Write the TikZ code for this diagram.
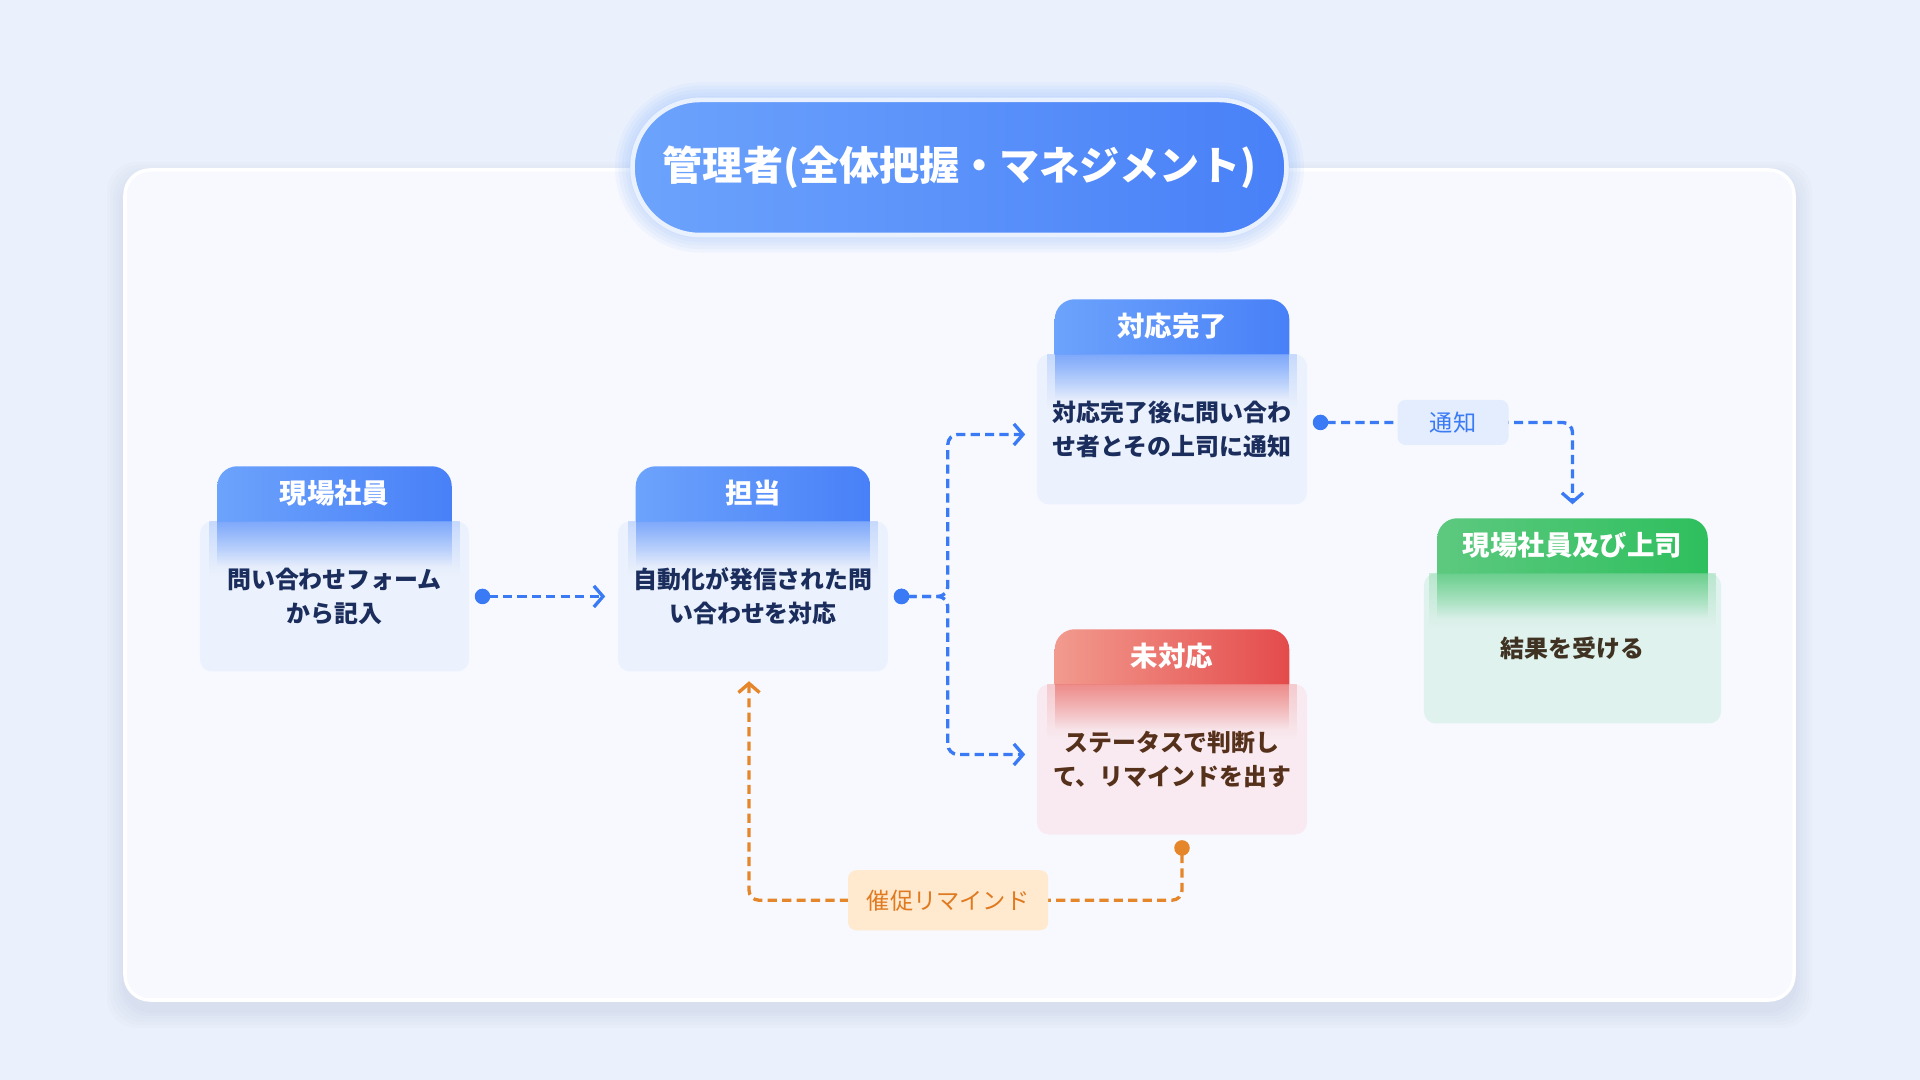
\documentclass[tikz,border=0pt]{standalone}
\usepackage{fontspec}
\setmainfont{Noto Sans CJK JP}
\usetikzlibrary{arrows.meta,positioning,calc,shapes.misc,fadings}

\definecolor{bgblue}{HTML}{EAF1FD}
\definecolor{panel}{HTML}{F7F9FF}
\definecolor{blueL}{HTML}{6CA3FC}
\definecolor{blueR}{HTML}{4880F8}
\definecolor{blueB}{HTML}{ECF2FD}
\definecolor{blueT}{HTML}{1A2D5C}
\definecolor{conB}{HTML}{3A7AF5}
\definecolor{redL}{HTML}{F29A8E}
\definecolor{redR}{HTML}{E44B4B}
\definecolor{redB}{HTML}{F8EAF0}
\definecolor{redT}{HTML}{55301A}
\definecolor{greenL}{HTML}{5DC97F}
\definecolor{greenR}{HTML}{2EBF5E}
\definecolor{greenB}{HTML}{E0F2EE}
\definecolor{greenT}{HTML}{3F3222}
\definecolor{conO}{HTML}{E5862A}
\definecolor{orgB}{HTML}{FFE9CF}
\definecolor{orgT}{HTML}{E07A20}
\definecolor{tsuB}{HTML}{E4EDFD}

\pgfdeclarelayer{back}
\pgfsetlayers{back,main}
\tikzfading[name=fadedown, top color=transparent!35, bottom color=transparent!100]
\tikzfading[name=fadesoft, top color=transparent!75, bottom color=transparent!100]

\newcommand{\hdfont}[0]{\fontsize{7.8}{9}\selectfont\bfseries}
\newcommand{\bdfont}[0]{\fontsize{6.8}{9.7}\selectfont\bfseries}
\newcommand{\lbfont}[0]{\fontsize{6.6}{8}\selectfont}
\newcommand{\headfill}[2]{\begin{pgfonlayer}{back}
	\shade[left color=#2L, right color=#2R, rounded corners=0.2cm]
	([yshift=-0.3cm]#1.south west) rectangle (#1.north east);
	\end{pgfonlayer}}
\newcommand{\glow}[2]{\fill[#2L!40!#2R, path fading=fadesoft]
	([xshift=-0.08cm]#1.south west) rectangle ([xshift=0.08cm,yshift=-0.55cm]#1.south east);
	\fill[#2L!40!#2R, path fading=fadedown]
	(#1.south west) rectangle ([yshift=-0.45cm]#1.south east)}

\tikzset{
	hd/.style={minimum width=#1, minimum height=0.53cm, inner sep=0pt, text=white, font=\hdfont},
	bd/.style={minimum width=#1, minimum height=1.5cm, inner sep=0pt, rounded corners=0.12cm, align=center, font=\bdfont},
	conn/.style={draw=#1, line width=0.95pt, dash pattern=on 2.6pt off 1.5pt,
		{Circle[length=4.4pt]}-{Straight Barb[length=2.6pt,width=6pt,line width=0.95pt]}},
	tag/.style={fill=#1, rounded corners=0.08cm, inner sep=0pt, font=\lbfont},
}

\begin{document}
\begin{tikzpicture}[x=0.01cm, y=-0.01cm]
	\useasboundingbox (0,0) rectangle (1920,1080);
\begin{pgfonlayer}{back}
	\fill[bgblue] (0,0) rectangle (1920,1080);
	\foreach \d in {3,6,...,18}
		\fill[blueR!30!gray, opacity=0.025, rounded corners=0.3cm] (125-\d,170-\d+10) rectangle (1794+\d,1000+\d+10);
	\fill[panel, draw=white, line width=1pt, rounded corners=0.25cm] (125,170) rectangle (1794,1000);
	\foreach \d in {1,...,5}
		\node[rounded rectangle, fill=blueL, opacity=0.06, minimum width=6.77cm+\d*0.07cm, minimum height=1.35cm+\d*0.07cm] (tglow\d) at (959.5,167.5) {};
\end{pgfonlayer}
%
	\node[rounded rectangle, left color=blueL, right color=blueR, draw=white!85!blueL, line width=1.3pt,
		minimum width=6.77cm, minimum height=1.35cm, text=white, font=\fontsize{11.4}{13}\selectfont\bfseries]
		(kanri) at (959.5,167.5) {管理者(全体把握・マネジメント)};
%
	\node[hd=2.33cm] (genbaH) at (334.5,493.5) {現場社員};
	\headfill{genbaH}{blue};
	\node[bd=2.69cm, fill=blueB, text=blueT, below=0pt of genbaH] (genba) {問い合わせフォーム\\から記入};
	\glow{genbaH}{blue};
%
	\node[hd=2.33cm] (tantouH) at (753,493.5) {担当};
	\headfill{tantouH}{blue};
	\node[bd=2.70cm, fill=blueB, text=blueT, below=0pt of tantouH] (tantou) {自動化が発信された問\\い合わせを対応};
	\glow{tantouH}{blue};
%
	\node[hd=2.33cm] (kanryoH) at (1172,326.5) {対応完了};
	\headfill{kanryoH}{blue};
	\node[bd=2.70cm, fill=blueB, text=blueT, below=0pt of kanryoH] (kanryo) {対応完了後に問い合わ\\せ者とその上司に通知};
	\glow{kanryoH}{blue};
%
	\node[hd=2.33cm] (mitaiouH) at (1172,656.5) {未対応};
	\headfill{mitaiouH}{red};
	\node[bd=2.70cm, fill=redB, text=redT, below=0pt of mitaiouH] (mitaiou) {ステータスで判断し\\て、リマインドを出す};
	\glow{mitaiouH}{red};
%
	\node[hd=2.69cm] (joushiH) at (1572.5,545.5) {現場社員及び上司};
	\headfill{joushiH}{green};
	\node[bd=2.97cm, fill=greenB, text=greenT, below=0pt of joushiH] (joushi) {結果を受ける};
	\glow{joushiH}{green};
%
	\draw[conn=conB] ([xshift=0.05cm]genba.east) -- ([xshift=-0.12cm]tantou.west);
	\draw[conn=conB, rounded corners=0.1cm] ([xshift=0.05cm]tantou.east) -- ([xshift=0.59cm]tantou.east) |- ([xshift=-0.11cm,yshift=-0.05cm]kanryo.west);
	\draw[conn=conB, rounded corners=0.1cm] ([xshift=0.05cm]tantou.east) -- ([xshift=0.59cm]tantou.east) |- ([xshift=-0.11cm,yshift=0.05cm]mitaiou.west);
	\draw[conn=conB, rounded corners=0.1cm] ([xshift=0.05cm,yshift=0.07cm]kanryo.east)
		-| node[pos=0.27, tag=tsuB, text=conB, minimum width=1.11cm, minimum height=0.45cm] (tsuchi) {通知}
		([yshift=0.14cm]joushiH.north);
	\draw[conn=conO, rounded corners=0.1cm] ([xshift=0.1cm,yshift=-0.05cm]mitaiou.south) -- ([xshift=0.1cm,yshift=-0.65cm]mitaiou.south)
		-| node[pos=0.27, tag=orgB, text=orgT, minimum width=2.0cm, minimum height=0.6cm] (saisoku) {催促リマインド}
		([xshift=-0.04cm,yshift=-0.09cm]tantou.south);
%
\end{tikzpicture}
\end{document}
